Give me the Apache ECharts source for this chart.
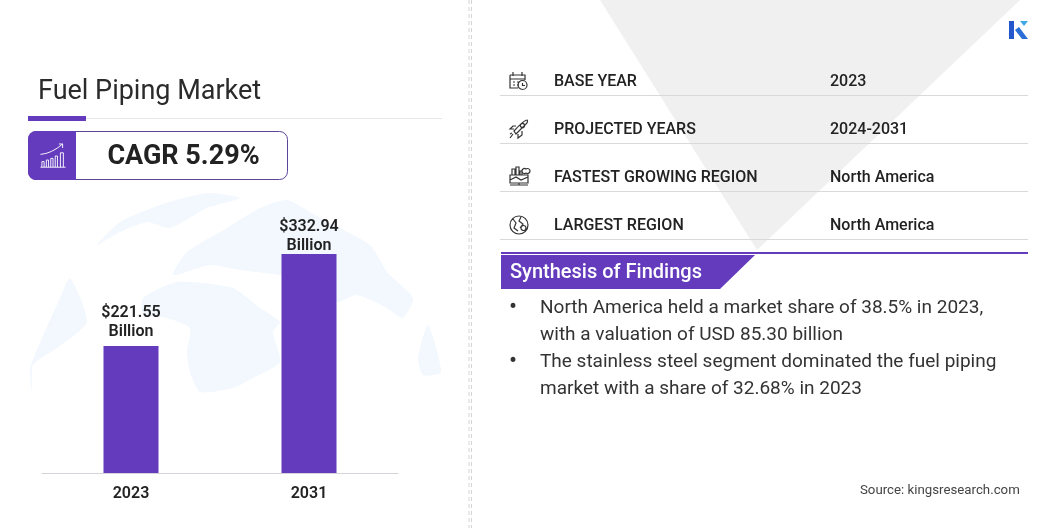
<!DOCTYPE html>
<html>
<head>
<meta charset="utf-8">
<style>
  html, body { margin: 0; padding: 0; background: #fff; }
  #chart { width: 1056px; height: 528px; }
</style>
<script src="https://cdn.jsdelivr.net/npm/echarts@6/dist/echarts.min.js"></script>
</head>
<body>
<div id="chart"></div>
<script>
const years = ['2023', '2031']
const marketValues = [221.55, 332.94]
const valueLabels = ['$221.55\nBillion', '$332.94\nBillion']

const infoLabels = ['BASE YEAR', 'PROJECTED YEARS', 'FASTEST GROWING REGION', 'LARGEST REGION']
const infoValues = ['2023', '2024-2031', 'North America', 'North America']
const findingLines = [
  'North America held a market share of 38.5% in 2023,',
  'with a valuation of USD 85.30 billion',
  'The stainless steel segment dominated the fuel piping',
  'market with a share of 32.68% in 2023',
]

const PURPLE = '#633bbc'
const INK = '#222222'
const FONT = 'Roboto'

// pale world map behind the bars, rough outlines only
const landShapes = [
  [[97, 245], [120, 222], [160, 205], [207, 193], [240, 198], [207, 208], [170, 228], [147, 222], [120, 232]],
  [[173, 275], [187, 252], [227, 228], [260, 208], [287, 200], [320, 218], [370, 245], [387, 272], [413, 298], [403, 318], [387, 308], [357, 295], [337, 302], [307, 282], [280, 275], [240, 270], [210, 265]],
  [[143, 298], [177, 282], [233, 288], [260, 308], [280, 322], [273, 332], [280, 362], [253, 378], [233, 388], [200, 392], [190, 372], [187, 352], [190, 328], [167, 318], [143, 315]],
  [[30, 368], [60, 298], [70, 278], [87, 322], [57, 348], [33, 365], [32, 392]],
  [[418, 358], [428, 325], [441, 372], [423, 375]],
]

// small outline icons for the info rows, centred on 0,0
const iconPaths = [
  'M-9 -6 H6 V-1 M-9 -6 V7 H-1 M-9 -2 H6 M-6 -9 V-5 M3 -9 V-5 M-6 1 H-4 M-2 1 H0 M-6 4 H-4 M-2 4 H0 M8 4 A4.5 4.5 0 1 1 -1 4 A4.5 4.5 0 1 1 8 4 M3.5 2 V4.5 H6',
  'M-3 5 L8 -6 Q9 -9 8 -9 Q5 -9 -5 2 Z M-5 0 L-9 0 L-6 -3 L-3 -3 M-1 5 V9 L3 6 V2 M-6 5 L-9 9 M-7 4 L-9 5 M2 -2 A1.8 1.8 0 1 1 5 -5 A1.8 1.8 0 1 1 2 -2',
  'M-9 -2 H9 V6 H-9 Z M-7 -2 V-8 H-4 V-2 M-3 -2 V-10 H0 V-2 M1 -2 V-6 H3 V-2 M7 -4 A2.5 2.5 0 1 1 7 -8 A2.5 2.5 0 1 1 7 -4 M-9 3 L-3 0 L2 3 L9 0 M-9 8 H9 M0 6 V8',
  'M9 0 A9 9 0 1 1 -9 0 A9 9 0 1 1 9 0 M-6 -6 L-3 -2 L-5 3 L-1 6 M2 -8 L0 -4 L4 -1 L1 3 M7 3 A2.5 2.5 0 1 1 2 3 A2.5 2.5 0 1 1 7 3',
]
const trendIcon = 'M-17 -2 Q-2 -3 13 -15 M8 -15 H13 V-10 M-17 14 H17 M-15 14 V7 H-12 V14 M-9 14 V5 H-6 V14 M-3 14 V3 H0 V14 M3 14 V0 H6 V14 M10 14 V-4 H14 V14'

const rowY = [80, 128, 176, 224]

// the graphic component has no raw path type, so each icon gets its own shape
function pathShape(name, d) {
  echarts.graphic.registerShape(name, echarts.graphic.extendPath(d, {}))
  return name
}

const graphics = []

// grey funnel behind the info table
graphics.push({ type: 'polygon', z: 0, shape: { points: [[600, 0], [1020, 0], [757, 250]] }, style: { fill: '#f0f0f0' } })

landShapes.forEach(points => {
  graphics.push({ type: 'polygon', z: 0, shape: { points, smooth: 0.2 }, style: { fill: '#f2f8fd' } })
})

// divider between the two panels
graphics.push({ type: 'line', z: 1, shape: { x1: 469, y1: 0, x2: 469, y2: 528 }, style: { stroke: '#d4d4d4', lineWidth: 1, lineDash: [4, 3] } })
graphics.push({ type: 'line', z: 1, shape: { x1: 471.5, y1: 0, x2: 471.5, y2: 528 }, style: { stroke: '#d4d4d4', lineWidth: 1, lineDash: [4, 3] } })

// title block
graphics.push({ type: 'text', z: 5, style: { x: 38, y: 92, text: 'Fuel Piping Market', font: '400 27px ' + FONT, fill: '#2b2b2b', verticalAlign: 'middle' } })
graphics.push({ type: 'line', z: 2, shape: { x1: 28, y1: 118.5, x2: 442, y2: 118.5 }, style: { stroke: '#e6e6ea', lineWidth: 1 } })
graphics.push({ type: 'rect', z: 3, shape: { x: 28, y: 116, width: 58, height: 5 }, style: { fill: PURPLE } })

// CAGR badge
graphics.push({ type: 'rect', z: 3, shape: { x: 28.5, y: 131.5, width: 259, height: 48, r: 8 }, style: { fill: '#fff', stroke: '#5a4596', lineWidth: 1 } })
graphics.push({ type: 'rect', z: 4, shape: { x: 28, y: 131, width: 48, height: 49, r: [8, 0, 0, 8] }, style: { fill: PURPLE } })
graphics.push({ type: pathShape('trendIcon', trendIcon), z: 5, x: 53, y: 156, scaleX: 0.74, scaleY: 0.8, style: { fill: 'none', stroke: '#fff', lineWidth: 1.2 } })
graphics.push({ type: 'text', z: 5, style: { x: 183.5, y: 157, text: 'CAGR 5.29%', font: '700 27px ' + FONT, fill: INK, align: 'center', verticalAlign: 'middle' } })

// info rows
infoLabels.forEach((label, i) => {
  const y = rowY[i]
  graphics.push({ type: pathShape('rowIcon' + i, iconPaths[i]), z: 5, x: 519, y: y + 1, style: { fill: 'none', stroke: '#333', lineWidth: 1.2 } })
  graphics.push({ type: 'text', z: 5, style: { x: 554, y: y + 2, text: label, font: '500 16px ' + FONT, fill: INK, verticalAlign: 'middle' } })
  graphics.push({ type: 'text', z: 5, style: { x: 830, y: y + 2, text: infoValues[i], font: '500 16px ' + FONT, fill: INK, verticalAlign: 'middle' } })
  graphics.push({ type: 'line', z: 2, shape: { x1: 500, y1: y + 15.5, x2: 1028, y2: y + 15.5 }, style: { stroke: '#d9d9d9', lineWidth: 1 } })
})

// findings banner
graphics.push({ type: 'rect', z: 3, shape: { x: 501, y: 252, width: 527, height: 2 }, style: { fill: PURPLE } })
graphics.push({ type: 'polygon', z: 3, shape: { points: [[501, 255], [755, 255], [720, 289], [501, 289]] }, style: { fill: PURPLE } })
graphics.push({ type: 'text', z: 5, style: { x: 510, y: 273, text: 'Synthesis of Findings', font: '500 20px ' + FONT, fill: '#fff', verticalAlign: 'middle' } })

// findings list
const lineY = [308, 335, 362, 389]
findingLines.forEach((line, i) => {
  graphics.push({ type: 'text', z: 5, style: { x: 540, y: lineY[i], text: line, font: '400 19px ' + FONT, fill: '#333', verticalAlign: 'middle' } })
})
;[0, 2].forEach(i => {
  graphics.push({ type: 'text', z: 5, style: { x: 509, y: lineY[i], text: '•', font: '400 24px ' + FONT, fill: '#333', verticalAlign: 'middle' } })
})

graphics.push({ type: 'text', z: 5, style: { x: 860, y: 491, text: 'Source: kingsresearch.com', font: '400 13.25px ' + FONT, fill: '#444', verticalAlign: 'middle' } })

// logo
graphics.push({ type: 'polygon', z: 5, shape: { points: [[1009, 21], [1014, 21], [1014, 39], [1009, 39]] }, style: { fill: '#2456cc' } })
graphics.push({ type: 'polygon', z: 5, shape: { points: [[1015, 30], [1019, 27], [1028, 39], [1022, 39]] }, style: { fill: '#2b6fd6' } })
graphics.push({ type: 'polygon', z: 5, shape: { points: [[1020, 21], [1028, 21], [1024, 26]] }, style: { fill: '#3fa9e8' } })

// gap above each bar differs in the source
const labelGaps = [5, -1]

const chart = echarts.init(document.getElementById('chart'), null, { renderer: 'canvas' })
chart.setOption({
  animation: false,
  backgroundColor: '#fff',
  textStyle: { fontFamily: FONT },
  graphic: graphics,
  grid: { left: 42, width: 356, top: 254, height: 219 },
  xAxis: {
    type: 'category',
    data: years,
    axisTick: { show: false },
    axisLine: { lineStyle: { color: '#d5d3da', width: 1 } },
    axisLabel: { color: INK, fontFamily: FONT, fontSize: 16, fontWeight: 600, margin: 13 },
  },
  // the source image's bars start from a cut baseline, not from zero
  yAxis: { type: 'value', min: 68, max: 332.94, show: false },
  series: [{
    type: 'bar',
    z: 4,
    data: marketValues.map((value, i) => ({ value, label: { distance: labelGaps[i] } })),
    barWidth: 55,
    itemStyle: { color: PURPLE },
    label: {
      show: true,
      position: 'top',
      formatter: p => valueLabels[p.dataIndex],
      color: INK,
      fontFamily: FONT,
      fontSize: 16,
      fontWeight: 600,
      lineHeight: 19,
    },
  }],
})
</script>
</body>
</html>
